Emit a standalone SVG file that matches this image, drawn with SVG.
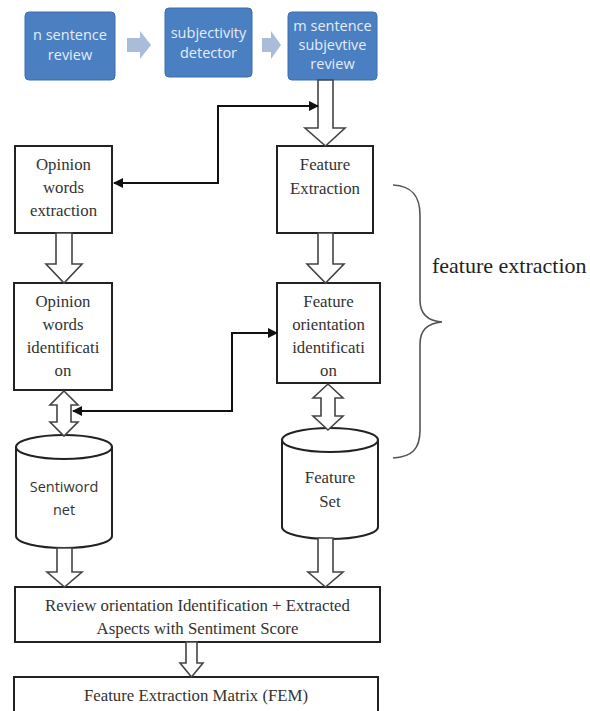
<svg xmlns="http://www.w3.org/2000/svg" width="590" height="711" viewBox="0 0 590 711">
<defs>
<style>
.blue{fill:#4a7fc1;stroke:#3d6fae;stroke-width:1}
.bt{font-family:"Open Sans","DejaVu Sans",sans-serif;font-size:14.5px;fill:#e4ecf7;text-anchor:middle}
.chev{fill:#a9bcd9}
.box{fill:#fff;stroke:#222;stroke-width:2}
.st{font-family:"Liberation Serif","Times New Roman",serif;font-size:16.8px;fill:#333;text-anchor:middle}
.ss{font-family:"Open Sans","DejaVu Sans",sans-serif;font-size:14.5px;fill:#333;text-anchor:middle}
.ha{fill:#fff;stroke:#444;stroke-width:1.6;stroke-linejoin:miter}
.con{fill:none;stroke:#111;stroke-width:2}
</style>
<marker id="ah" viewBox="0 0 10 10" refX="9" refY="5" markerWidth="5" markerHeight="5" orient="auto-start-reverse" markerUnits="strokeWidth">
<path d="M0,0 L10,5 L0,10 z" fill="#111"/>
</marker>
</defs>
<rect width="590" height="711" fill="#fff"/>

<g id="n-sentence-review">
<rect class="blue" x="25" y="12" width="90" height="68" rx="4"/>
<text class="bt" x="70" y="40">n sentence</text>
<text class="bt" x="70" y="60">review</text>
</g>
<g id="subjectivity-detector">
<rect class="blue" x="165" y="8" width="87" height="69" rx="4"/>
<text class="bt" x="208.5" y="38">subjectivity</text>
<text class="bt" x="208.5" y="58">detector</text>
</g>
<g id="m-sentence-review">
<rect class="blue" x="288" y="12" width="89" height="68" rx="4"/>
<text class="bt" x="332.5" y="31">m sentence</text>
<text class="bt" x="332.5" y="50">subjevtive</text>
<text class="bt" x="332.5" y="69">review</text>
</g>

<g id="opinion-words-extraction">
<rect class="box" x="15" y="146" width="97" height="87"/>
<text class="st" x="63.5" y="170">Opinion</text>
<text class="st" x="63.5" y="193">words</text>
<text class="st" x="63.5" y="216">extraction</text>
</g>
<g id="feature-extraction-box">
<rect class="box" x="277" y="146" width="96" height="87"/>
<text class="st" x="325" y="170">Feature</text>
<text class="st" x="325" y="194">Extraction</text>
</g>
<g id="opinion-words-identification">
<rect class="box" x="14" y="283" width="98" height="107"/>
<text class="st" x="63" y="307">Opinion</text>
<text class="st" x="63" y="330">words</text>
<text class="st" x="63" y="353">identificati</text>
<text class="st" x="63" y="376">on</text>
</g>
<g id="feature-orientation-identification">
<rect class="box" x="277" y="283" width="103" height="100"/>
<text class="st" x="328.5" y="307">Feature</text>
<text class="st" x="328.5" y="330">orientation</text>
<text class="st" x="328.5" y="353">identificati</text>
<text class="st" x="328.5" y="376">on</text>
</g>
<g id="sentiwordnet">
<path class="box" d="M16,447 A48,12 0 0 1 112,447 L112,536 A48,12 0 0 1 16,536 Z"/>
<path class="box" d="M16,447 A48,12 0 0 0 112,447" fill="none"/>
<text class="ss" x="64" y="492">Sentiword</text>
<text class="ss" x="64" y="515">net</text>
</g>
<g id="feature-set">
<path class="box" d="M282,440 A48,12 0 0 1 378,440 L378,527 A48,12 0 0 1 282,527 Z"/>
<path class="box" d="M282,440 A48,12 0 0 0 378,440" fill="none"/>
<text class="st" x="330" y="483">Feature</text>
<text class="st" x="330" y="507">Set</text>
</g>
<g id="review-orientation">
<rect class="box" x="15" y="587" width="365" height="55"/>
<text class="st" x="197.5" y="611">Review orientation Identification + Extracted</text>
<text class="st" x="197.5" y="634">Aspects with Sentiment Score</text>
</g>
<g id="fem">
<rect class="box" x="14" y="677" width="364" height="40"/>
<text class="st" x="196" y="701">Feature Extraction Matrix (FEM)</text>
</g>
<g id="brace-label">
<path d="M393,185 C412,186 420,196 420,215 L420,300 C420,314 428,321 442,322 C428,323 420,330 420,344 L420,430 C420,449 412,457 393,458" fill="none" stroke="#555" stroke-width="1.6"/>
<text x="432" y="273" font-family="Liberation Serif,Times New Roman,serif" font-size="22" fill="#222">feature extraction</text>
</g>

<g id="connectors">
<path class="chev" d="M127,38 L140,38 L140,31 L151,45 L140,59 L140,52 L127,52 Z"/>
<path class="chev" d="M262,38 L271,38 L271,31 L281,45 L271,59 L271,52 L262,52 Z"/>
<polygon class="ha" points="318,80 333,80 333,128 345,128 325.5,146 305,128 318,128"/>
<polygon class="ha" points="56,233 72,233 72,264 82,264 64,283 46,264 56,264"/>
<polygon class="ha" points="318,233 333,233 333,264 344,264 325.5,283 307,264 318,264"/>
<polygon class="ha" points="64,391 78,405 71,405 71,422 78,422 64,436 50,422 57,422 57,405 50,405"/>
<polygon class="ha" points="328,384 343,398 335,398 335,416 343,416 328,430 313,416 321,416 321,398 313,398"/>
<polygon class="ha" points="57,548 72,548 72,572 82,572 64.5,587 47,572 57,572"/>
<polygon class="ha" points="318,538 333,538 333,572 343,572 325.5,587 308,572 318,572"/>
<polygon class="ha" points="186,642 197,642 197,663 203,663 191.5,677 180,663 186,663"/>
<polyline class="con" points="114,183 218,183 218,106 318,106" marker-start="url(#ah)" marker-end="url(#ah)"/>
<polyline class="con" points="73,411 232,411 232,333 277,333" marker-start="url(#ah)" marker-end="url(#ah)"/>
</g>
</svg>
